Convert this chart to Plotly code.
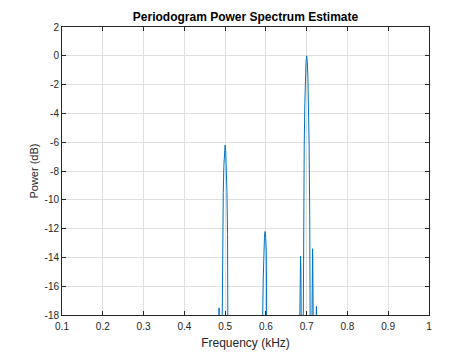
import plotly.graph_objects as go

# Periodogram estimate (kHz, dB); values below -18 are clipped by the axis
freq_khz = [
    0.100, 0.4700,
    # sidelobe near 0.485
    0.4820, 0.4835, 0.4845, 0.4850, 0.4855, 0.4865, 0.4880,
    # main lobe at 0.5
    0.4903, 0.4910, 0.4915, 0.4925, 0.4940, 0.4955, 0.4970, 0.4985, 0.5000,
    0.5015, 0.5030, 0.5045, 0.5060, 0.5075, 0.5085, 0.5090, 0.5097,
    0.5400,
    # main lobe at 0.598
    0.5883, 0.5890, 0.5895, 0.5905, 0.5920, 0.5935, 0.5950, 0.5965, 0.5980,
    0.5995, 0.6010, 0.6025, 0.6040, 0.6055, 0.6065, 0.6070, 0.6077,
    0.6500,
    # first left sidelobe near 0.685
    0.6815, 0.6830, 0.6840, 0.6850, 0.6860, 0.6870, 0.6880,
    # main lobe at 0.7
    0.6903, 0.6908, 0.6915, 0.6925, 0.6940, 0.6955, 0.6970, 0.6985, 0.7000,
    0.7015, 0.7030, 0.7045, 0.7060, 0.7075, 0.7085, 0.7092, 0.7097,
    # right sidelobes near 0.7145 and 0.724
    0.7115, 0.7130, 0.7140, 0.7145, 0.7150, 0.7160, 0.7175,
    0.7220, 0.7232, 0.7240, 0.7248, 0.7260,
    0.7400, 1.000,
]
power_db = [
    -45, -45,
    -40, -19.5, -17.8, -17.5, -17.8, -19.5, -40,
    -46, -29, -22.8, -17.3, -12.4, -9.5, -7.6, -6.6, -6.2,
    -6.6, -7.6, -9.5, -12.4, -17.3, -22.8, -29, -46,
    -45,
    -52, -35, -29, -23.3, -18.4, -15.5, -13.6, -12.6, -12.2,
    -12.6, -13.6, -15.5, -18.4, -23.3, -29, -35, -52,
    -45,
    -40, -18.6, -14.9, -13.9, -14.9, -18.6, -40,
    -40, -23, -16.6, -11.1, -6.2, -3.3, -1.4, -0.4, 0.0,
    -0.4, -1.4, -3.3, -6.2, -11.1, -16.6, -23, -40,
    -40, -18.2, -14.3, -13.4, -14.3, -18.2, -40,
    -40, -18.5, -17.4, -18.5, -40,
    -45, -45,
]

x_ticks = [0.1, 0.2, 0.3, 0.4, 0.5, 0.6, 0.7, 0.8, 0.9, 1.0]
x_tick_labels = ["0.1", "0.2", "0.3", "0.4", "0.5", "0.6", "0.7", "0.8", "0.9", "1"]
y_ticks = [-18, -16, -14, -12, -10, -8, -6, -4, -2, 0, 2]
y_tick_labels = ["-18", "-16", "-14", "-12", "-10", "-8", "-6", "-4", "-2", "0", "2"]

axis_color = "#262626"
grid_color = "#dfdfdf"
font_family = "Liberation Sans, Arial, sans-serif"

# The page body has an 8px margin; figure size/margins compensate so the
# plot area lands at x 62..429, y 27..315 of the 474x355 window.
W, H = 466, 347
ML, MT = 54, 19
PW, PH = 367, 288

fig = go.Figure()
fig.add_trace(go.Scatter(
    x=freq_khz, y=power_db, mode="lines",
    line=dict(color="#0072BD", width=1),
    showlegend=False, hoverinfo="skip",
))

common = dict(
    showline=True, linecolor=axis_color, linewidth=1, mirror="allticks",
    ticks="inside", ticklen=4, tickwidth=1, tickcolor=axis_color,
    showgrid=True, gridcolor=grid_color, gridwidth=1,
    zeroline=False, automargin=False,
    tickfont=dict(family=font_family, size=10, color=axis_color),
)

fig.update_layout(
    width=W, height=H,
    margin=dict(l=ML, r=W - ML - PW, t=MT, b=H - MT - PH),
    paper_bgcolor="white", plot_bgcolor="white",
    font=dict(family=font_family, color=axis_color),
    title=dict(
        text="<b>Periodogram Power Spectrum Estimate</b>",
        x=(ML + PW / 2) / W, xanchor="center",
        y=1 - 9 / H, yanchor="middle",
        font=dict(family=font_family, size=12, color="black"),
    ),
    xaxis=dict(
        range=[0.1, 1.0], tickvals=x_ticks, ticktext=x_tick_labels,
        ticklabelstandoff=2,
        title=dict(text="Frequency (kHz)", standoff=7,
                   font=dict(family=font_family, size=12, color=axis_color)),
        **common,
    ),
    yaxis=dict(
        range=[-18, 2], tickvals=y_ticks, ticktext=y_tick_labels,
        title=dict(text="Power (dB)", standoff=3,
                   font=dict(family=font_family, size=11, color=axis_color)),
        **common,
    ),
)

fig.write_html("out.html")
